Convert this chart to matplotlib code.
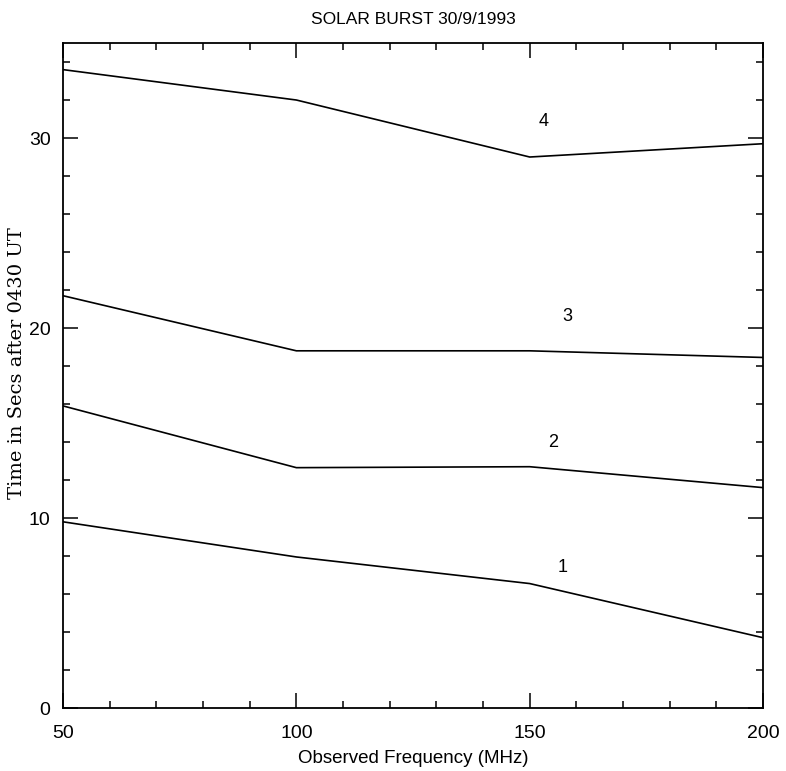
import matplotlib
matplotlib.use("Agg")
import matplotlib.pyplot as plt
from matplotlib.ticker import MultipleLocator

freq = [50, 100, 150, 200]
burst1 = [9.8, 7.95, 6.55, 3.7]
burst2 = [15.9, 12.65, 12.7, 11.6]
burst3 = [21.7, 18.8, 18.8, 18.45]
burst4 = [33.6, 32.0, 29.0, 29.7]
series = [burst1, burst2, burst3, burst4]
label_names = ["1", "2", "3", "4"]
label_x = [157, 155, 158, 153]
label_y = [7.4, 14.0, 20.6, 30.85]

plt.rcParams['font.family'] = ['Liberation Sans', 'DejaVu Sans']

fig = plt.figure(figsize=(7.86, 7.71), dpi=100)
ax = fig.add_axes([0.0802, 0.0817, 0.8906, 0.8625])

for s in series:
    ax.plot(freq, s, color='black', lw=1.2)
for n, lx, ly in zip(label_names, label_x, label_y):
    ax.text(lx, ly, n, fontsize=13, ha='center', va='center')

ax.set_xlim(50, 200)
ax.set_ylim(0, 35)
ax.xaxis.set_major_locator(MultipleLocator(50))
ax.xaxis.set_minor_locator(MultipleLocator(10))
ax.yaxis.set_major_locator(MultipleLocator(10))
ax.yaxis.set_minor_locator(MultipleLocator(2))
ax.tick_params(which='both', direction='in', top=True, right=True, labelsize=14, width=1.1)
ax.tick_params(which='major', length=11)
ax.tick_params(which='minor', length=5)
ax.tick_params(axis='x', which='major', pad=12)
ax.tick_params(axis='y', which='major', pad=9)
for sp in ax.spines.values():
    sp.set_linewidth(1.3)

ax.set_title("SOLAR BURST 30/9/1993", fontsize=12.5, pad=14)
ax.set_xlabel("Observed Frequency (MHz)", fontsize=13.5, labelpad=6)
fig.text(17 / 786, 1 - 363 / 771, "Time in Secs after 0430 UT", fontsize=14,
         family=['DejaVu Serif'], rotation=90, ha='center', va='center')

fig.savefig("out.png", dpi=100)
